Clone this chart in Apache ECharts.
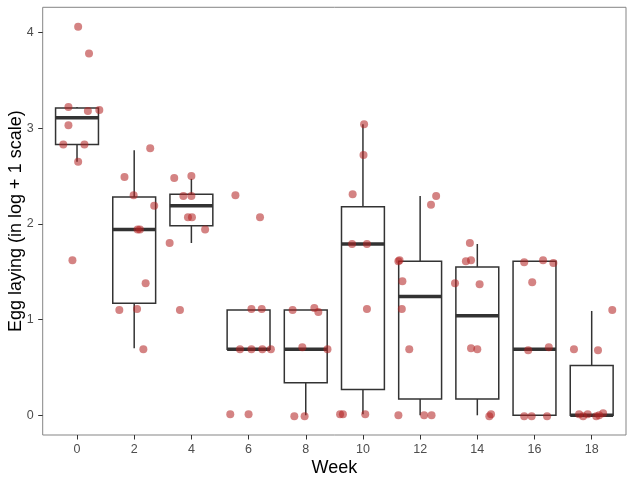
<!DOCTYPE html>
<html>
<head>
<meta charset="utf-8">
<script src="https://cdn.jsdelivr.net/npm/echarts@6/dist/echarts.min.js"></script>
<style>
html,body{margin:0;padding:0;background:#fff;}
#chart{width:634px;height:477px;}
</style>
</head>
<body>
<div id="chart"></div>
<script>
// Categories (weeks)
const weeks = ['0','2','4','6','8','10','12','14','16','18'];

// Box statistics per week (lower whisker, Q1, median, Q3, upper whisker)
const boxLow  = [2.65, 0.70, 1.80, 0.69, 0.00, 0.01, 0.00, 0.00, 0.00, 0.00];
const boxQ1   = [2.83, 1.17, 1.98, 0.69, 0.34, 0.27, 0.17, 0.17, 0.00, 0.00];
const boxMed  = [3.11, 1.94, 2.19, 0.69, 0.69, 1.79, 1.24, 1.04, 0.69, 0.00];
const boxQ3   = [3.21, 2.28, 2.31, 1.10, 1.10, 2.18, 1.61, 1.55, 1.61, 0.52];
const boxHigh = [3.22, 2.77, 2.47, 1.10, 1.10, 3.04, 2.29, 1.79, 1.61, 1.09];

// Jittered observations per week: values and horizontal jitter (in category units)
const pointValues = [
  [4.06, 3.78, 3.22, 3.18, 3.19, 3.03, 2.83, 2.83, 2.65, 1.62],
  [2.79, 2.49, 2.30, 2.19, 1.94, 1.94, 1.38, 1.10, 1.11, 0.69],
  [2.48, 2.50, 2.29, 2.29, 2.07, 2.07, 1.94, 1.80, 1.10],
  [2.30, 2.07, 1.11, 1.11, 0.69, 0.69, 0.69, 0.69, 0.01, 0.01],
  [1.10, 1.12, 1.08, 0.71, 0.69, -0.01, -0.01],
  [3.04, 2.72, 2.31, 1.79, 1.79, 1.11, 0.01, 0.01, 0.01],
  [2.29, 2.20, 1.61, 1.62, 1.40, 1.11, 0.69, 0.00, 0.00, 0.00],
  [1.80, 1.61, 1.62, 1.38, 1.37, 0.70, 0.69, -0.01, 0.01],
  [1.60, 1.62, 1.59, 1.39, 0.68, 0.71, -0.01, -0.01, -0.01],
  [1.10, 0.69, 0.68, 0.01, -0.01, 0.01, -0.01, 0.00, 0.02]
];
const pointJitter = [
  [0.02, 0.21, -0.15, 0.19, 0.39, -0.15, -0.24, 0.13, 0.02, -0.08],
  [0.28, -0.17, -0.01, 0.35, 0.06, 0.10, 0.20, -0.26, 0.05, 0.16],
  [-0.30, 0.00, -0.14, 0.00, -0.06, 0.01, 0.24, -0.38, -0.20],
  [-0.23, 0.20, 0.05, 0.23, -0.15, 0.05, 0.24, 0.39, -0.32, 0.00],
  [-0.23, 0.15, 0.22, -0.06, 0.38, -0.20, -0.02],
  [0.02, 0.01, -0.18, -0.19, 0.07, 0.07, -0.40, -0.35, 0.04],
  [0.28, 0.19, -0.38, -0.36, -0.31, -0.32, -0.19, -0.38, 0.07, 0.20],
  [-0.13, -0.20, -0.11, -0.39, 0.04, -0.11, 0.00, 0.21, 0.24],
  [-0.18, 0.15, 0.33, -0.04, -0.11, 0.25, -0.18, -0.05, 0.22],
  [0.36, -0.31, 0.11, -0.22, -0.15, -0.07, 0.08, 0.13, 0.20]
];

const yTicks = [0, 1, 2, 3, 4];
const xTickIdx = weeks.map((w, i) => i);

const boxData = weeks.map((w, i) => [i, boxLow[i], boxQ1[i], boxMed[i], boxQ3[i], boxHigh[i]]);
const scatterData = [];
pointValues.forEach((vals, i) => {
  vals.forEach((v, k) => scatterData.push([i + pointJitter[i][k], v]));
});

const chart = echarts.init(document.getElementById('chart'), null, {renderer: 'canvas'});
const textFont = 'Liberation Sans, Arial, Helvetica, sans-serif';

chart.setOption({
  animation: false,
  backgroundColor: '#ffffff',
  grid: {
    left: 42.7, right: 8, top: 7.3, bottom: 42,
    containLabel: false, outerBoundsMode: 'none',
    show: true, borderColor: '#858585', borderWidth: 1, backgroundColor: 'transparent'
  },
  xAxis: {
    type: 'value', min: -0.6, max: 9.6,
    name: 'Week', nameLocation: 'middle', nameGap: 24, nameMoveOverlap: false,
    nameTextStyle: {fontSize: 18, color: '#000', fontFamily: textFont},
    axisLine: {show: false, onZero: false},
    splitLine: {show: false},
    axisTick: {show: true, inside: false, customValues: xTickIdx, length: 4.5, lineStyle: {color: '#333', width: 1}},
    axisLabel: {customValues: xTickIdx, formatter: v => weeks[Math.round(v)], fontSize: 12.5, color: '#4d4d4d', margin: 8, fontFamily: textFont}
  },
  yAxis: {
    type: 'value', min: -0.206, max: 4.263,
    name: 'Egg laying (in log + 1 scale)', nameLocation: 'middle', nameGap: 18, nameMoveOverlap: false,
    nameTextStyle: {fontSize: 18, color: '#000', fontFamily: textFont},
    axisLine: {show: false, onZero: false},
    splitLine: {show: false},
    axisTick: {show: true, inside: false, customValues: yTicks, length: 4.5, lineStyle: {color: '#333', width: 1}},
    axisLabel: {customValues: yTicks, fontSize: 12.5, color: '#4d4d4d', margin: 9, fontFamily: textFont}
  },
  series: [
    {
      type: 'custom',
      z: 2,
      data: boxData,
      encode: {x: 0, y: [1, 2, 3, 4, 5]},
      renderItem: function (params, api) {
        const x = api.value(0);
        const lo = api.coord([x, api.value(1)]);
        const q1 = api.coord([x, api.value(2)]);
        const md = api.coord([x, api.value(3)]);
        const q3 = api.coord([x, api.value(4)]);
        const hi = api.coord([x, api.value(5)]);
        const half = api.size([1, 0])[0] * 0.375;
        const cx = md[0];
        const stroke = '#333333';
        return {
          type: 'group',
          children: [
            {type: 'line', shape: {x1: cx, y1: hi[1], x2: cx, y2: q3[1]}, style: {stroke: stroke, lineWidth: 1.5}},
            {type: 'line', shape: {x1: cx, y1: q1[1], x2: cx, y2: lo[1]}, style: {stroke: stroke, lineWidth: 1.5}},
            {type: 'rect', shape: {x: cx - half, y: q3[1], width: 2 * half, height: q1[1] - q3[1]}, style: {fill: '#ffffff', stroke: stroke, lineWidth: 1.5}},
            {type: 'line', shape: {x1: cx - half, y1: md[1], x2: cx + half, y2: md[1]}, style: {stroke: stroke, lineWidth: 3.5}}
          ]
        };
      }
    },
    {
      type: 'scatter',
      z: 3,
      clip: false,
      symbol: 'circle',
      symbolSize: 8,
      itemStyle: {color: 'rgba(178,34,34,0.7)', borderWidth: 0},
      data: scatterData
    }
  ]
});
</script>
</body>
</html>
